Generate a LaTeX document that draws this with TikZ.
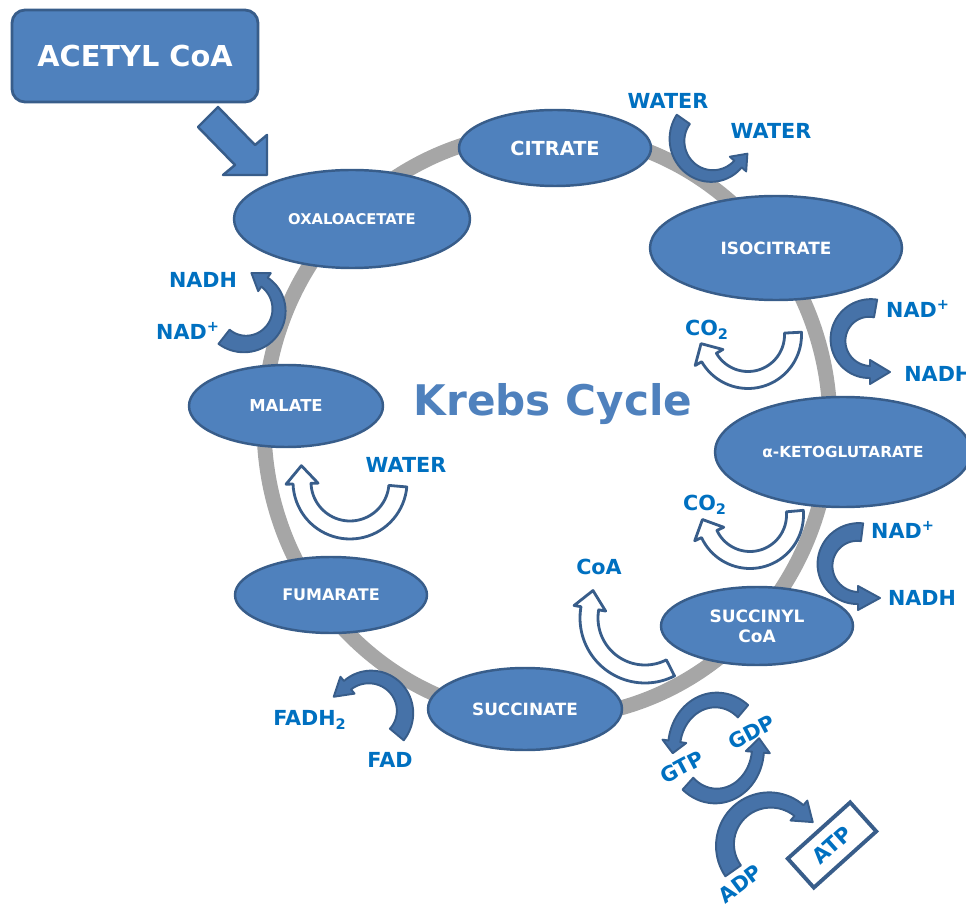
\documentclass[tikz,border=0pt]{standalone}
\usepackage{fontspec}
\setmainfont{DejaVu Sans}
\usetikzlibrary{shapes.geometric}
\definecolor{nodefill}{HTML}{4F81BD}
\definecolor{nodeline}{HTML}{385D8A}
\definecolor{labelblue}{HTML}{0070C0}
\definecolor{ringgrey}{HTML}{A6A6A6}
\definecolor{arrowfill}{HTML}{4672A8}
\makeatletter
\def\cA@parse#1,#2,#3,#4,#5,#6,#7,#8,#9\relax{\def\cAcx{#1}\def\cAcy{#2}\def\cArx{#3}\def\cAry{#4}\def\cAta{#5}\def\cAtb{#6}\def\cAL{#7}\def\cAwa{#8}\cA@parsetwo#9\relax}
\def\cA@parsetwo#1,#2\relax{\def\cAwb{#1}\def\cAhh{#2}}
\newcommand\curvedarrow[2]{%
  \cA@parse#2\relax
  \pgfmathsetmacro\cAs{ifthenelse(\cAtb>\cAta,1,-1)}%
  \pgfmathsetmacro\cAnx{\cAcx+\cArx*cos(\cAtb)}%
  \pgfmathsetmacro\cAny{\cAcy-\cAry*sin(\cAtb)}%
  \pgfmathsetmacro\cAtx{\cAnx-\cAs*\cAL*sin(\cAtb)}%
  \pgfmathsetmacro\cAty{\cAny-\cAs*\cAL*cos(\cAtb)}%
  \path[#1] plot[domain=\cAta:\cAtb,samples=40] ({\cAcx+(\cArx+\cAwa+(\cAwb-\cAwa)*(\x-(\cAta))/((\cAtb)-(\cAta)))*cos(\x)},{\cAcy-(\cAry+\cAwa+(\cAwb-\cAwa)*(\x-(\cAta))/((\cAtb)-(\cAta)))*sin(\x)})
   -- ({\cAcx+(\cArx+\cAhh)*cos(\cAtb)},{\cAcy-(\cAry+\cAhh)*sin(\cAtb)})
   -- (\cAtx,\cAty)
   -- ({\cAcx+(\cArx-\cAhh)*cos(\cAtb)},{\cAcy-(\cAry-\cAhh)*sin(\cAtb)})
   -- plot[domain=\cAtb:\cAta,samples=40] ({\cAcx+(\cArx-\cAwa-(\cAwb-\cAwa)*(\x-(\cAta))/((\cAtb)-(\cAta)))*cos(\x)},{\cAcy-(\cAry-\cAwa-(\cAwb-\cAwa)*(\x-(\cAta))/((\cAtb)-(\cAta)))*sin(\x)})
   -- cycle;
}
\makeatother
\begin{document}
\begin{tikzpicture}[x=0.02cm,y=-0.02cm,
  size/.style 2 args={minimum width=#1*0.02cm, minimum height=#2*0.02cm},
  stage/.style={ellipse, fill=nodefill, draw=nodeline, line width=1.4pt, inner sep=0pt, text=white, align=center},
  fs/.style={font=\bfseries\fontsize{#1}{#1}\selectfont},
  lbl/.style={text=labelblue, inner sep=0pt, fs=11.8},
  filledarrow/.style={fill=arrowfill, draw=nodeline, line width=1.1pt, line join=round},
  hollowarrow/.style={fill=white, draw=nodeline, line width=1.6pt, line join=round}]
\useasboundingbox (0,0) rectangle (966,908);
% ring
\draw[ringgrey, line width=8.5pt] (547,425) ellipse [x radius=283, y radius=293];
% acetyl CoA
\node[rectangle, rounded corners=0.26cm, fill=nodefill, draw=nodeline, line width=1.6pt, size={246}{92}, text=white, fs=16.4] (acetyl) at (135,56) {ACETYL CoA};
\path[fill=nodefill, draw=nodeline, line width=1.4pt, line join=round]
  (198,127) -- (218,107) -- (255,145) -- (267,135) -- (267,175) -- (223,175) -- (235,165) -- cycle;
% stages
\node[stage, size={192}{76}, fs=11] (citrate) at (555,148) {CITRATE};
\node[stage, size={252}{104}, fs=9.6] (isocitrate) at (776,248) {ISOCITRATE};
\node[stage, size={256}{110}, fs=8.7] (aketo) at (843,452) {α-KETOGLUTARATE};
\node[stage, size={192}{78}, font=\bfseries\fontsize{9.7}{11.4}\selectfont] (succinyl) at (757,626) {SUCCINYL\\CoA};
\node[stage, size={194}{82}, fs=9.6] (succinate) at (525,709) {SUCCINATE};
\node[stage, size={192}{76}, fs=9.1] (fumarate) at (331,595) {FUMARATE};
\node[stage, size={194}{82}, fs=9.35] (malate) at (286,406) {MALATE};
\node[stage, size={236}{98}, fs=8.4] (oxalo) at (352,219) {OXALOACETATE};
% title
\node[text=nodefill, fs=24, inner sep=0pt] (krebs) at (553,404) {Krebs Cycle};
% curved arrows: cx,cy,rx,ry,ta,tb,L,wa,wb,hh
\curvedarrow{filledarrow}{712,140,35,36,145,318,14,8,5,11}
\curvedarrow{filledarrow}{870,340,32,32,80,270,20,9,6,12}
\curvedarrow{hollowarrow}{748,335,45,45,3,-150,16,8.5,8.5,16}
\curvedarrow{hollowarrow}{750,515,45,45,5,-155,16,8.5,8.5,16}
\curvedarrow{filledarrow}{858,565,33,33,83,270,22,9,6,12}
\curvedarrow{hollowarrow}{645,618,56,56,-63,-190,18,9,9,16}
\curvedarrow{hollowarrow}{350,482,48,48,-5,-178,18,9,9,16}
\curvedarrow{filledarrow}{245,310,34,34,-128,55,16,9,5.5,11}
\curvedarrow{filledarrow}{370,712,35,35,-40,130,18,9,5.5,11}
\curvedarrow{filledarrow}{716,748,42,48,50,172,12,8,6,12}
\curvedarrow{filledarrow}{716,748,42,48,228,355,14,8,6,12}
\curvedarrow{filledarrow}{770,845,45,45,215,50,18,9.5,7,13}
% labels
\node[lbl] (w1) at (668,101) {WATER};
\node[lbl] (w2) at (771,131) {WATER};
\node[lbl] (nadp1) at (918,309) {NAD\textsuperscript{+}};
\node[lbl, anchor=west] (nadh1) at (904,374) {NADH};
\node[lbl] (co2a) at (707,330) {CO\textsubscript{2}};
\node[lbl] (co2b) at (705,505) {CO\textsubscript{2}};
\node[lbl] (nadp2) at (903,530) {NAD\textsuperscript{+}};
\node[lbl] (nadh2) at (922,598) {NADH};
\node[lbl] (coa) at (599,567) {CoA};
\node[lbl] (w3) at (406,465) {WATER};
\node[lbl] (nadh3) at (203,280) {NADH};
\node[lbl] (nadp3) at (188,331) {NAD\textsuperscript{+}};
\node[lbl] (fadh2) at (310,720) {FADH\textsubscript{2}};
\node[lbl] (fad) at (390,760) {FAD};
\node[lbl, rotate=28] (gtp) at (682,767) {GTP};
\node[lbl, rotate=28] (gdp) at (752,732) {GDP};
\node[lbl, rotate=37] (adp) at (740,884) {ADP};
\node[rectangle, rotate=42, fill=white, draw=nodeline, line width=2.2pt, size={84}{39}, text=labelblue, fs=12, inner sep=0pt] (atp) at (832,845) {ATP};
\end{tikzpicture}
\end{document}
